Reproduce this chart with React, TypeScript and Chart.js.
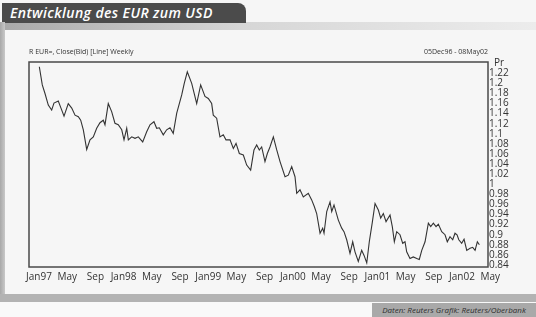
import React, { useEffect, useRef } from "react";
import { Chart, registerables } from "chart.js";

Chart.register(...registerables);

// Weekly EUR/USD close (decimal years)
const dates: number[] = [
  1997.004, 1997.039, 1997.071, 1997.11, 1997.15, 1997.177, 1997.228, 1997.26, 1997.296, 1997.346,
  1997.387, 1997.426, 1997.465, 1997.493, 1997.524, 1997.564, 1997.603, 1997.642, 1997.682, 1997.721,
  1997.76, 1997.78, 1997.819, 1997.859, 1997.898, 1997.937, 1997.978, 1998.005, 1998.037, 1998.056,
  1998.096, 1998.135, 1998.174, 1998.226, 1998.273, 1998.312, 1998.359, 1998.391, 1998.422, 1998.469,
  1998.509, 1998.548, 1998.587, 1998.628, 1998.687, 1998.717, 1998.753, 1998.805, 1998.864, 1998.911,
  1998.962, 1999.001, 1999.041, 1999.06, 1999.1, 1999.139, 1999.178, 1999.21, 1999.258, 1999.297,
  1999.329, 1999.368, 1999.415, 1999.455, 1999.502, 1999.541, 1999.573, 1999.604, 1999.632, 1999.671,
  1999.699, 1999.73, 1999.77, 1999.81, 1999.849, 1999.908, 1999.947, 1999.987, 2000.026, 2000.046,
  2000.085, 2000.124, 2000.183, 2000.223, 2000.254, 2000.282, 2000.322, 2000.353, 2000.369, 2000.401,
  2000.44, 2000.46, 2000.487, 2000.538, 2000.578, 2000.605, 2000.637, 2000.676, 2000.708, 2000.735,
  2000.774, 2000.814, 2000.842, 2000.874, 2000.904, 2000.94, 2000.972, 2001.011, 2001.039, 2001.07,
  2001.102, 2001.149, 2001.176, 2001.2, 2001.228, 2001.267, 2001.299, 2001.326, 2001.346, 2001.385,
  2001.424, 2001.465, 2001.495, 2001.524, 2001.563, 2001.602, 2001.63, 2001.661, 2001.693, 2001.72,
  2001.76, 2001.799, 2001.826, 2001.858, 2001.89, 2001.917, 2001.941, 2001.962, 2001.996, 2002.024,
  2002.056, 2002.095, 2002.126, 2002.154, 2002.181, 2002.205,
];

const eurUsd: number[] = [
  1.233, 1.197, 1.18, 1.157, 1.147, 1.161, 1.165, 1.151, 1.135, 1.16,
  1.151, 1.137, 1.134, 1.127, 1.108, 1.069, 1.088, 1.094, 1.111, 1.122,
  1.127, 1.118, 1.16, 1.144, 1.121, 1.118, 1.108, 1.088, 1.111, 1.088,
  1.094, 1.091, 1.094, 1.084, 1.104, 1.118, 1.124, 1.111, 1.112, 1.098,
  1.108, 1.112, 1.101, 1.141, 1.177, 1.2, 1.223, 1.2, 1.16, 1.197,
  1.174, 1.17, 1.16, 1.137, 1.131, 1.094, 1.098, 1.088, 1.088, 1.071,
  1.081, 1.061, 1.058, 1.038, 1.028, 1.068, 1.078, 1.068, 1.074, 1.045,
  1.061, 1.074, 1.094, 1.068, 1.045, 1.015, 1.018, 1.035, 1.015, 0.982,
  0.989, 0.975, 0.982, 0.969, 0.956, 0.942, 0.903, 0.913, 0.903, 0.946,
  0.965, 0.946, 0.959, 0.929, 0.913, 0.906, 0.89, 0.863, 0.886, 0.866,
  0.847, 0.869, 0.859, 0.844, 0.886, 0.925, 0.962, 0.949, 0.933, 0.942,
  0.926, 0.939, 0.916, 0.886, 0.906, 0.9, 0.883, 0.886, 0.866, 0.853,
  0.856, 0.853, 0.851, 0.869, 0.886, 0.923, 0.916, 0.923, 0.916, 0.921,
  0.906, 0.9, 0.886, 0.896, 0.89, 0.903, 0.9, 0.89, 0.883, 0.891,
  0.869, 0.873, 0.875, 0.869, 0.886, 0.88,
];

const xTickMonths: number[] = [0, 4, 8, 12, 16, 20, 24, 28, 32, 36, 40, 44, 48, 52, 56, 60, 64];
const xTickLabels: string[] = [
  "Jan97", "May", "Sep", "Jan98", "May", "Sep", "Jan99", "May", "Sep",
  "Jan00", "May", "Sep", "Jan01", "May", "Sep", "Jan02", "May",
];
const yTicks: number[] = [
  0.84, 0.86, 0.88, 0.9, 0.92, 0.94, 0.96, 0.98, 1.0, 1.02, 1.04,
  1.06, 1.08, 1.1, 1.12, 1.14, 1.16, 1.18, 1.2, 1.22,
];

const AXIS_FONT = "'Open Sans', 'DejaVu Sans', sans-serif";

const boxPlugin = {
  id: "boxFrame",
  afterDraw(chart: any) {
    const { ctx, chartArea } = chart;
    ctx.save();
    ctx.strokeStyle = "#4a4a4a";
    ctx.lineWidth = 1.5;
    ctx.strokeRect(chartArea.left, chartArea.top, chartArea.right - chartArea.left, chartArea.bottom - chartArea.top);
    ctx.restore();
  },
};

export default function App() {
  const ref = useRef<HTMLCanvasElement | null>(null);

  useEffect(() => {
    if (!ref.current) return;
    const chart = new Chart(ref.current, {
      type: "line",
      data: {
        datasets: [
          {
            data: dates.map((d, i) => ({ x: d, y: eurUsd[i] })),
            borderColor: "#333333",
            borderWidth: 1.1,
            pointRadius: 0,
            tension: 0,
            fill: false,
          },
        ],
      },
      plugins: [boxPlugin],
      options: {
        animation: false,
        responsive: false,
        devicePixelRatio: 1,
        layout: { padding: { left: 29, top: 62, right: 0, bottom: 0 } },
        plugins: { legend: { display: false }, tooltip: { enabled: false } },
        scales: {
          x: {
            type: "linear",
            min: 1996.882,
            max: 2002.307,
            grid: { display: false, drawTicks: false },
            border: { display: false },
            afterBuildTicks: (scale: any) => {
              scale.ticks = xTickMonths.map((m) => ({ value: 1997 + m / 12 }));
            },
            afterFit: (scale: any) => {
              scale.height = 50;
            },
            ticks: {
              autoSkip: false,
              maxRotation: 0,
              padding: 4,
              color: "#333",
              font: { family: AXIS_FONT, size: 10 },
              callback: (_v: any, i: number) => xTickLabels[i],
            },
          },
          y: {
            type: "linear",
            position: "right",
            min: 0.836,
            max: 1.2424,
            grid: { display: false, drawTicks: false },
            border: { display: false },
            afterBuildTicks: (scale: any) => {
              scale.ticks = yTicks.map((v) => ({ value: v }));
            },
            afterFit: (scale: any) => {
              scale.width = 48;
            },
            ticks: {
              autoSkip: false,
              padding: 1,
              color: "#333",
              font: { family: AXIS_FONT, size: 10 },
              callback: (v: any) => String(parseFloat(Number(v).toFixed(2))),
            },
          },
        },
      },
    });
    return () => chart.destroy();
  }, []);

  return (
    <div
      style={{
        position: "fixed",
        left: 0,
        top: 0,
        width: 536,
        height: 317,
        background: "#f6f6f6",
        overflow: "hidden",
        fontFamily: AXIS_FONT,
      }}
    >
      {/* grey band under the banner */}
      <div
        style={{
          position: "absolute",
          left: 0,
          top: 22,
          width: 536,
          height: 8,
          background: "linear-gradient(to right, #a9a9a9, #d6d6d6 45%, #ececec)",
        }}
      />
      {/* banner */}
      <div
        style={{
          position: "absolute",
          left: 2,
          top: 3,
          width: 244,
          height: 20,
          background: "#4b4b4b",
          borderTopRightRadius: 8,
        }}
      />
      <div
        style={{
          position: "absolute",
          left: 10,
          top: 3,
          height: 20,
          lineHeight: "20px",
          color: "#ffffff",
          fontStyle: "italic",
          fontWeight: 600,
          fontSize: 14,
          letterSpacing: 0.4,
          whiteSpace: "nowrap",
        }}
      >
        Entwicklung des EUR zum USD
      </div>
      {/* left frame */}
      <div style={{ position: "absolute", left: 0, top: 22, width: 5, height: 280, background: "linear-gradient(to right, #a8a8a8, #c8c8c8)" }} />
      {/* bottom frame */}
      <div style={{ position: "absolute", left: 0, top: 294, width: 536, height: 8, background: "#b3b3b3" }} />
      {/* white strip below frame */}
      <div style={{ position: "absolute", left: 0, top: 302, width: 536, height: 15, background: "#f9f9f9" }} />
      {/* source box */}
      <div
        style={{
          position: "absolute",
          left: 372,
          top: 303,
          width: 164,
          height: 14,
          background: "#a9a9a9",
          color: "#2e2e2e",
          fontStyle: "italic",
          fontSize: 8,
          lineHeight: "14px",
          textAlign: "center",
          whiteSpace: "nowrap",
        }}
      >
        Daten: Reuters Grafik: Reuters/Oberbank
      </div>
      <canvas ref={ref} width={536} height={317} style={{ position: "absolute", left: 0, top: 0, width: 536, height: 317 }} />
      {/* small header texts */}
      <div style={{ position: "absolute", left: 29, top: 47, fontSize: 7, color: "#333", whiteSpace: "nowrap" }}>
        R EUR=, Close(Bid) [Line] Weekly
      </div>
      <div style={{ position: "absolute", right: 48, top: 47, fontSize: 7, color: "#333", whiteSpace: "nowrap" }}>
        05Dec96 - 08May02
      </div>
      <div style={{ position: "absolute", left: 494, top: 55, fontSize: 10, color: "#333", whiteSpace: "nowrap" }}>
        Pr
      </div>
    </div>
  );
}
